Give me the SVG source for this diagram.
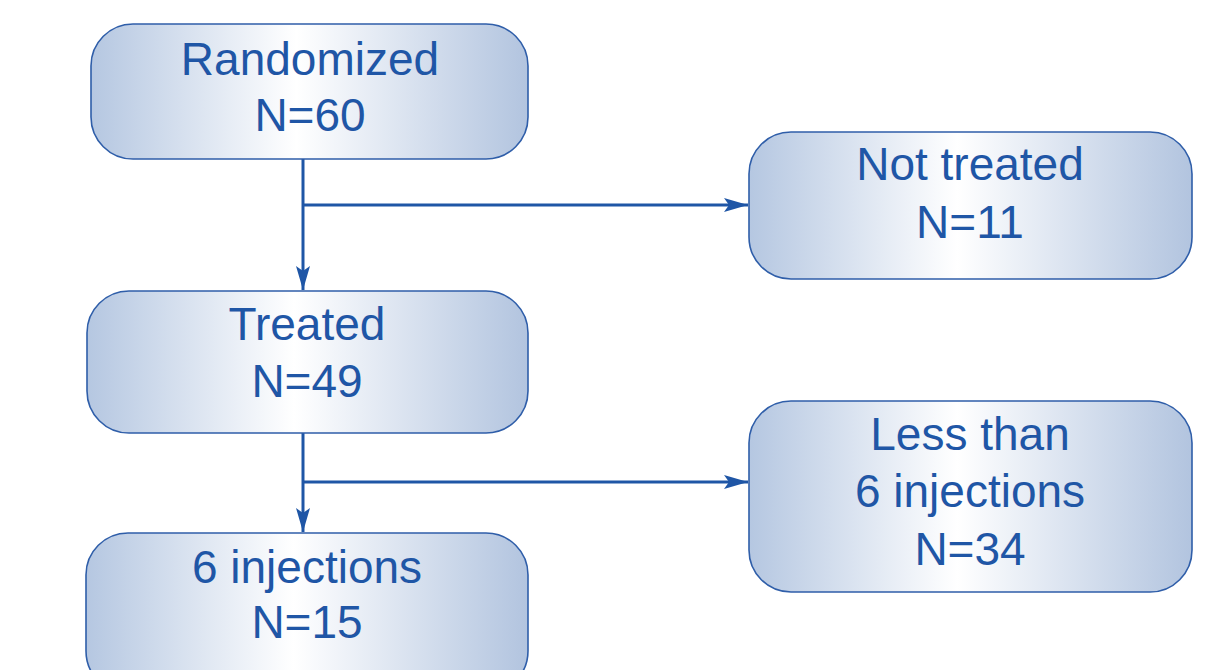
<svg xmlns="http://www.w3.org/2000/svg" width="1206" height="670" viewBox="0 0 1206 670">
  <defs>
    <linearGradient id="boxGrad" x1="0" y1="0" x2="1" y2="0">
      <stop offset="0" stop-color="#b5c7e1"/>
      <stop offset="0.47" stop-color="#ffffff"/>
      <stop offset="1" stop-color="#b2c4df"/>
    </linearGradient>
    <marker id="arrow" viewBox="0 0 24 14" refX="24" refY="7" markerWidth="24" markerHeight="14" markerUnits="userSpaceOnUse" orient="auto">
      <path d="M0,0 L24,7 L0,14 L5,7 Z" fill="#1f56a6"/>
    </marker>
  </defs>
  <style>
    .box { fill: url(#boxGrad); stroke: #2f5ea9; stroke-width: 1.6; }
    .label { font-family: "Liberation Sans", Arial, sans-serif; font-size: 46px; fill: #1f56a6; text-anchor: middle; }
    .conn { stroke: #1f56a6; stroke-width: 3; fill: none; }
  </style>
  <rect width="1206" height="670" fill="#ffffff"/>

  <g id="connectors">
    <line class="conn" x1="303" y1="159" x2="303" y2="290" marker-end="url(#arrow)"/>
    <line class="conn" x1="303" y1="205" x2="748" y2="205" marker-end="url(#arrow)"/>
    <line class="conn" x1="303" y1="433" x2="303" y2="532" marker-end="url(#arrow)"/>
    <line class="conn" x1="303" y1="482" x2="748" y2="482" marker-end="url(#arrow)"/>
  </g>

  <g id="randomized">
    <rect class="box" x="91" y="24" width="437" height="135" rx="42" ry="42"/>
    <text class="label" x="310" y="75">Randomized</text>
    <text class="label" x="310" y="131">N=60</text>
  </g>

  <g id="not-treated">
    <rect class="box" x="749" y="132" width="443" height="147" rx="42" ry="42"/>
    <text class="label" x="970" y="180">Not treated</text>
    <text class="label" x="970" y="238">N=11</text>
  </g>

  <g id="treated">
    <rect class="box" x="87" y="291" width="441" height="142" rx="42" ry="42"/>
    <text class="label" x="307" y="340">Treated</text>
    <text class="label" x="307" y="397">N=49</text>
  </g>

  <g id="less-than-6">
    <rect class="box" x="749" y="401" width="443" height="191" rx="42" ry="42"/>
    <text class="label" x="970" y="450">Less than</text>
    <text class="label" x="970" y="507">6 injections</text>
    <text class="label" x="970" y="565">N=34</text>
  </g>

  <g id="six-injections">
    <rect class="box" x="86" y="533" width="442" height="160" rx="42" ry="42"/>
    <text class="label" x="307" y="583">6 injections</text>
    <text class="label" x="307" y="638">N=15</text>
  </g>
</svg>
